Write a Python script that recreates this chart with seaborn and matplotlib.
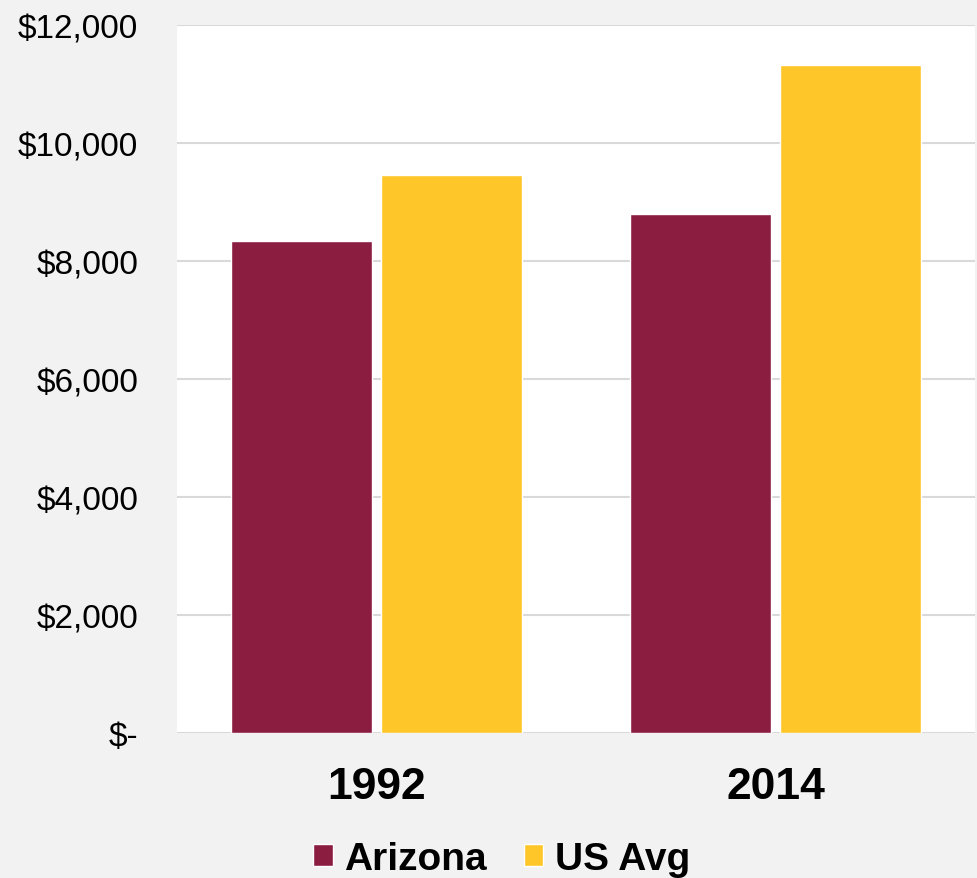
import pandas as pd
import matplotlib.pyplot as plt
import seaborn as sns

# values
years = ["1992", "2014"]
arizona = [8340, 8800]
us_avg = [9470, 11320]
series_names = ["Arizona", "US Avg"]
palette = ["#8B1D41", "#FEC629"]
y_ticks = [0, 2000, 4000, 6000, 8000, 10000, 12000]
y_tick_labels = ["$-", "$2,000", "$4,000", "$6,000", "$8,000", "$10,000", "$12,000"]

df = pd.DataFrame({
    "year": years * 2,
    "series": [series_names[0]] * len(years) + [series_names[1]] * len(years),
    "value": arizona + us_avg,
})

sns.set_style("white")
plt.rcParams["font.family"] = ["Liberation Sans", "DejaVu Sans"]
plt.rcParams["text.color"] = "black"
plt.rcParams["xtick.color"] = "black"
plt.rcParams["ytick.color"] = "black"

fig = plt.figure(figsize=(9.78, 8.79), dpi=100, facecolor="#F2F2F2")
ax = fig.add_axes([0.181, 0.165, 0.816, 0.805])
ax.set_facecolor("white")

sns.barplot(data=df, x="year", y="value", hue="series", palette=palette,
            width=0.75, gap=0.06, ax=ax, saturation=1, legend=True)

ax.set_ylim(0, 12000)
ax.set_yticks(y_ticks)
ax.set_yticklabels(y_tick_labels, fontsize=24, color="black")
ax.yaxis.grid(True, color="#D9D9D9", linewidth=1.5)
ax.set_axisbelow(True)
for s in ax.spines.values():
    s.set_visible(False)
ax.tick_params(axis="y", length=0, pad=28)
ax.tick_params(axis="x", length=0, pad=24)
for lbl in ax.get_xticklabels():
    lbl.set_fontsize(32)
    lbl.set_fontweight("bold")
    lbl.set_color("black")
ax.set_xlabel("")
ax.set_ylabel("")

handles, labels = ax.get_legend_handles_labels()
ax.get_legend().remove()
fig.legend(handles, labels, loc="center", bbox_to_anchor=(0.513, 0.022),
           ncol=2, frameon=False, prop={"size": 28, "weight": "bold"},
           labelcolor="black", handlelength=0.5, handleheight=0.5,
           handletextpad=0.3, columnspacing=0.95)

fig.savefig("out.png", dpi=100, facecolor=fig.get_facecolor())
